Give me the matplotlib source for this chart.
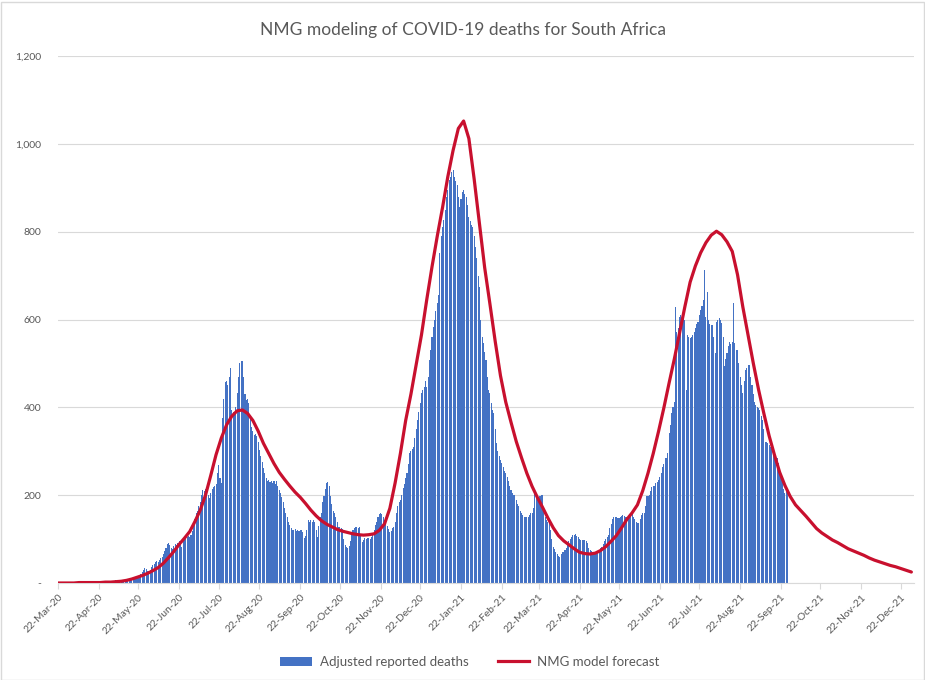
import datetime as dt
import numpy as np
import matplotlib
matplotlib.use("Agg")
import matplotlib.pyplot as plt
from matplotlib.patches import Rectangle
from matplotlib.lines import Line2D
from matplotlib.patches import Patch

plt.rcParams['font.family'] = ['Lato', 'DejaVu Sans']

title = "NMG modeling of COVID-19 deaths for South Africa"
bar_label = "Adjusted reported deaths"
line_label = "NMG model forecast"
start_date = dt.date(2020, 3, 22)

# Daily adjusted reported deaths from 22-Mar-20
deaths = [
    0, 0, 0, 0, 0, 1, 1,
    1, 1, 1, 1, 1, 1, 2,
    2, 1, 2, 2, 2, 3, 2,
    2, 3, 3, 2, 3, 3, 2,
    3, 3, 4, 3, 4, 4, 3,
    3, 4, 5, 4, 5, 5, 4,
    4, 5, 6, 5, 7, 6, 6,
    6, 7, 8, 7, 9, 9, 8,
    9, 10, 12, 11, 14, 15, 14,
    20, 24, 30, 34, 33, 28, 27,
    30, 36, 40, 44, 48, 50, 47,
    52, 58, 60, 66, 72, 80, 88,
    90, 87, 80, 78, 85, 88, 86,
    92, 95, 90, 83, 100, 98, 100,
    104, 108, 105, 110, 118, 130, 145,
    159, 165, 175, 185, 200, 212, 210,
    215, 212, 200, 193, 205, 215, 219,
    220, 225, 250, 269, 240, 227, 376,
    420, 458, 460, 450, 470, 489, 394,
    390, 387, 400, 432, 470, 500, 505,
    505, 470, 430, 416, 420, 410, 380,
    356, 345, 337, 340, 335, 320, 303,
    290, 275, 262, 250, 240, 232, 235,
    230, 232, 228, 232, 225, 232, 220,
    212, 205, 195, 185, 171, 160, 150,
    140, 132, 125, 121, 120, 122, 118,
    121, 118, 120, 121, 115, 102, 107,
    120, 143, 138, 143, 140, 143, 138,
    120, 105, 130, 150, 159, 185, 197,
    215, 227, 229, 220, 197, 180, 165,
    159, 150, 140, 128, 128, 126, 122,
    100, 86, 82, 80, 85, 95, 110,
    121, 125, 128, 128, 126, 128, 112,
    94, 98, 102, 100, 102, 102, 101,
    105, 110, 120, 132, 140, 150, 158,
    160, 158, 150, 143, 145, 130, 122,
    117, 118, 125, 128, 140, 160, 175,
    185, 189, 200, 216, 225, 238, 250,
    270, 296, 300, 305, 310, 330, 350,
    371, 390, 410, 432, 440, 447, 460,
    447, 470, 508, 530, 560, 584, 600,
    620, 637, 656, 751, 790, 810, 826,
    850, 880, 895, 918, 925, 937, 940,
    925, 915, 906, 880, 857, 875, 891,
    895, 885, 880, 860, 834, 825, 815,
    811, 790, 766, 740, 700, 675, 600,
    560, 546, 525, 508, 470, 440, 432,
    410, 395, 387, 350, 318, 300, 290,
    280, 273, 265, 255, 250, 242, 232,
    222, 212, 204, 200, 200, 190, 181,
    175, 165, 159, 155, 151, 150, 151,
    151, 155, 159, 160, 170, 208, 200,
    193, 195, 198, 200, 200, 170, 150,
    143, 140, 136, 120, 100, 83, 78,
    71, 65, 62, 60, 65, 71, 71,
    75, 80, 90, 95, 100, 105, 109,
    110, 112, 108, 105, 100, 99, 98,
    97, 98, 96, 90, 79, 75, 72,
    70, 68, 68, 70, 72, 75, 79,
    82, 88, 95, 100, 105, 110, 125,
    135, 145, 150, 151, 150, 147, 147,
    150, 152, 155, 153, 151, 150, 151,
    155, 158, 159, 150, 145, 140, 136,
    136, 145, 155, 159, 160, 175, 197,
    197, 200, 210, 219, 220, 222, 227,
    230, 235, 242, 250, 265, 270, 284,
    284, 295, 341, 360, 386, 400, 413,
    629, 572, 580, 606, 610, 615, 621,
    600, 439, 565, 560, 557, 560, 565,
    572, 580, 590, 595, 610, 621, 630,
    644, 712, 606, 663, 599, 590, 587,
    587, 560, 523, 595, 600, 603, 598,
    591, 560, 493, 510, 524, 540, 549,
    545, 549, 637, 546, 530, 530, 500,
    470, 450, 432, 460, 485, 490, 496,
    496, 470, 451, 430, 413, 405, 400,
    398, 394, 380, 371, 350, 322, 320,
    318, 315, 310, 305, 300, 295, 290,
    285, 273, 260, 245, 234, 215, 206,
    210, 205,
]

# NMG model forecast, every 4 days from 22-Mar-20
model_step_days = 4
model = [
    0, 0, 0, 0, 1, 1, 1, 1, 1, 2,
    2, 3, 4, 6, 9, 13, 17, 22, 28, 35,
    45, 58, 72, 88, 102, 117, 140, 166, 200, 245,
    292, 330, 360, 380, 392, 394, 386, 370, 346, 318,
    295, 272, 252, 236, 221, 207, 195, 181, 166, 153,
    142, 134, 128, 122, 118, 115, 112, 110, 109, 110,
    112, 120, 135, 170, 228, 295, 370, 430, 497, 565,
    645, 720, 790, 855, 925, 985, 1035, 1052, 1012, 920,
    820, 718, 635, 550, 472, 412, 366, 322, 285, 250,
    220, 195, 172, 148, 126, 108, 96, 87, 78, 70,
    67, 66, 68, 74, 83, 95, 108, 126, 145, 160,
    178, 210, 250, 295, 345, 398, 455, 510, 570, 629,
    685, 722, 752, 775, 792, 801, 793, 777, 755, 702,
    629, 565, 500, 440, 386, 335, 292, 252, 222, 197,
    178, 165, 152, 138, 124, 114, 106, 98, 92, 85,
    78, 73, 68, 63, 57, 52, 48, 44, 40, 37,
    33, 29, 25,
]

# tick labels (22nd of each month)
tick_labels = ["22-Mar-20", "22-Apr-20", "22-May-20", "22-Jun-20", "22-Jul-20",
               "22-Aug-20", "22-Sep-20", "22-Oct-20", "22-Nov-20", "22-Dec-20",
               "22-Jan-21", "22-Feb-21", "22-Mar-21", "22-Apr-21", "22-May-21",
               "22-Jun-21", "22-Jul-21", "22-Aug-21", "22-Sep-21", "22-Oct-21",
               "22-Nov-21", "22-Dec-21"]
y_ticks = [0, 200, 400, 600, 800, 1000, 1200]
y_tick_labels = ["-", "200", "400", "600", "800", "1,000", "1,200"]

bar_dates = [start_date + dt.timedelta(days=i) for i in range(len(deaths))]
model_dates = [start_date + dt.timedelta(days=i * model_step_days) for i in range(len(model))]
tick_dates = [dt.datetime.strptime(s, "%d-%b-%y").date() for s in tick_labels]

BLUE = "#4472C4"
RED = "#C8102E"
GRAY_TXT = "#595959"
GRID = "#D9D9D9"

fig = plt.figure(figsize=(9.25, 6.8), dpi=100)
ax = fig.add_axes([58 / 925, 1 - 583 / 680, (914 - 58) / 925, (583 - 56) / 680])

ax.bar(bar_dates, deaths, width=0.8, color=BLUE, linewidth=0, zorder=2)
ax.plot(model_dates, model, color=RED, linewidth=2.3, zorder=3,
        solid_capstyle='round', solid_joinstyle='round')

ax.set_ylim(0, 1200)
ax.set_xlim(start_date, start_date + dt.timedelta(days=650))
ax.set_yticks(y_ticks)
ax.set_yticklabels(y_tick_labels)
ax.set_xticks(tick_dates)
ax.set_xticklabels(tick_labels, rotation=45, ha='right', rotation_mode='anchor')

ax.grid(axis='y', color=GRID, linewidth=0.8, zorder=0)
ax.set_axisbelow(True)
for s in ['top', 'right', 'left']:
    ax.spines[s].set_visible(False)
ax.spines['bottom'].set_color(GRID)
ax.spines['bottom'].set_linewidth(0.8)
ax.tick_params(axis='y', length=0, labelsize=7.5, labelcolor=GRAY_TXT, pad=12)
ax.tick_params(axis='x', length=4, color=GRID, labelsize=7.5, labelcolor=GRAY_TXT, pad=3)

fig.text(0.5, 1 - 30 / 680, title, ha='center', va='center', fontsize=12.5, color=GRAY_TXT)

handles = [Patch(facecolor=BLUE, edgecolor='none', label=bar_label),
           Line2D([0], [0], color=RED, linewidth=2.3, label=line_label)]
fig.legend(handles=handles, loc='center', bbox_to_anchor=(470 / 925, 1 - 662 / 680),
           ncol=2, frameon=False, fontsize=9.5, labelcolor=GRAY_TXT,
           handlelength=2.4, handleheight=0.7, columnspacing=2.2, handletextpad=0.6)

fig.patches.append(Rectangle((0.5 / 925, 0.5 / 680), 1 - 2 / 925, 1 - 2 / 680,
                             transform=fig.transFigure, fill=False,
                             edgecolor="#D9D9D9", linewidth=1))

fig.savefig("out.png", dpi=100)
